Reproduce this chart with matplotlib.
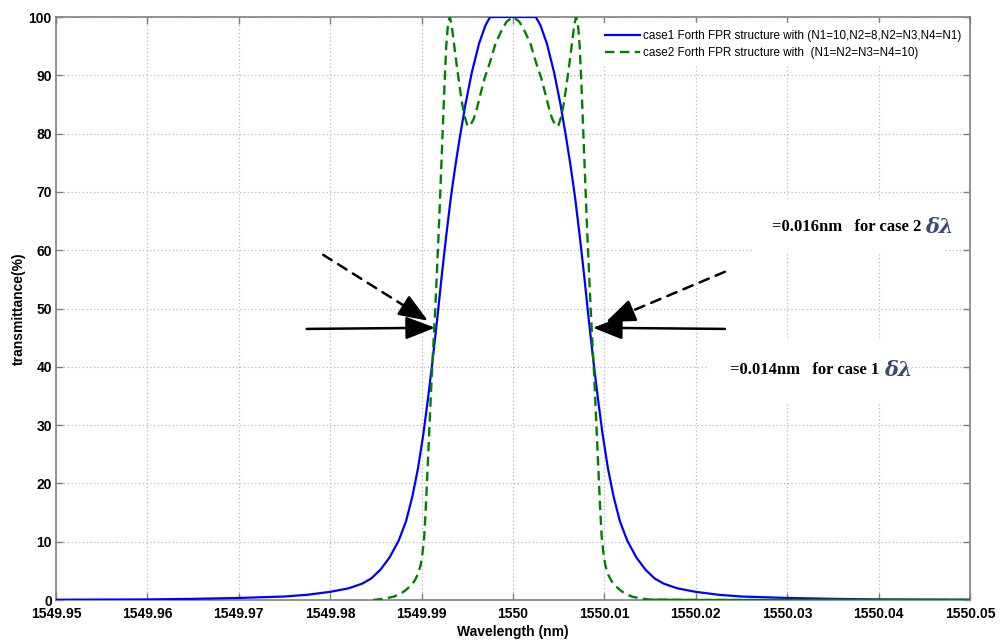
import matplotlib
matplotlib.use("Agg")
import matplotlib.pyplot as plt
import numpy as np

# ---------------- data ----------------
blue_wl = [1549.950, 1549.960, 1549.965, 1549.970, 1549.975, 1549.9775, 1549.980, 1549.982,
           1549.9835, 1549.9845, 1549.9855, 1549.9865, 1549.9875, 1549.9883, 1549.9890, 1549.9896,
           1549.9902, 1549.9907, 1549.9912, 1549.9917, 1549.9922, 1549.9927, 1549.9932, 1549.9937,
           1549.9942, 1549.9948, 1549.9955, 1549.9963, 1549.9970, 1549.9975,
           1550.0000,
           1550.0025, 1550.0030, 1550.0037, 1550.0045, 1550.0052, 1550.0058, 1550.0063, 1550.0068,
           1550.0073, 1550.0078, 1550.0083, 1550.0088, 1550.0093, 1550.0098, 1550.0104, 1550.0110,
           1550.0117, 1550.0125, 1550.0135, 1550.0145, 1550.0155, 1550.0165, 1550.0180, 1550.0200,
           1550.0225, 1550.0250, 1550.0300, 1550.0350, 1550.0400, 1550.0500]
blue_T = [0.05, 0.1, 0.2, 0.35, 0.6, 0.9, 1.4, 2.0,
          2.8, 3.7, 5.2, 7.3, 10.2, 13.5, 17.8, 22.5,
          28.5, 34.5, 41, 48, 55.5, 62.5, 69, 74.5,
          79.5, 85, 90.5, 95.5, 98.6, 100,
          100,
          100, 98.6, 95.5, 90.5, 85, 79.5, 74.5, 69,
          62.5, 55.5, 48, 41, 34.5, 28.5, 22.5, 17.8,
          13.5, 10.2, 7.3, 5.2, 3.7, 2.8, 2.0, 1.4,
          0.9, 0.6, 0.35, 0.2, 0.1, 0.05]

green_wl = [1549.9847, 1549.9855, 1549.9863, 1549.9870, 1549.9876, 1549.9882, 1549.9887, 1549.9892,
            1549.9896, 1549.9899, 1549.9901, 1549.9903, 1549.9905, 1549.9907, 1549.9909, 1549.9911,
            1549.9913, 1549.9915, 1549.9917, 1549.9919, 1549.9921, 1549.9923, 1549.9925, 1549.9927,
            1549.9929, 1549.9931, 1549.9933, 1549.9935, 1549.9938, 1549.9941, 1549.9944, 1549.9947,
            1549.9950, 1549.9952, 1549.9954, 1549.9957, 1549.9960, 1549.9964, 1549.9969, 1549.9975,
            1549.9981, 1549.9987, 1549.9993,
            1550.0000,
            1550.0007, 1550.0013, 1550.0019, 1550.0025, 1550.0031, 1550.0036, 1550.0040, 1550.0043,
            1550.0046, 1550.0048, 1550.0050, 1550.0053, 1550.0056, 1550.0059, 1550.0062, 1550.0065,
            1550.0067, 1550.0069, 1550.0071, 1550.0073, 1550.0075, 1550.0077, 1550.0079, 1550.0081,
            1550.0083, 1550.0085, 1550.0087, 1550.0089, 1550.0091, 1550.0093, 1550.0095, 1550.0097,
            1550.0099, 1550.0101, 1550.0104, 1550.0108, 1550.0113, 1550.0118, 1550.0124, 1550.0130,
            1550.0137, 1550.0145, 1550.0153, 1550.0200, 1550.0300, 1550.0400, 1550.0500]
green_T = [0.0, 0.15, 0.35, 0.6, 1.0, 1.6, 2.3, 3.2,
           4.4, 6.0, 8.0, 11, 17, 24, 31, 38,
           44, 50, 57, 64, 72, 80, 88, 95,
           99, 100, 98.5, 96, 92.3, 88.8, 85.5, 83,
           81.5, 81.2, 81.6, 82.5, 84, 86.5, 89.5, 92.3,
           95.5, 97.5, 99.2,
           100,
           99.2, 97.5, 95.5, 92.3, 89.5, 86.5, 84, 82.5,
           81.6, 81.2, 81.5, 83, 85.5, 88.8, 92.3, 96,
           98.5, 100, 99, 95, 88, 80, 72, 64,
           57, 50, 44, 38, 31, 24, 17, 11,
           8.0, 6.0, 4.4, 3.2, 2.3, 1.6, 1.0, 0.6,
           0.35, 0.15, 0.05, 0.0, 0.0, 0.0, 0.0]

xticks = [1549.95, 1549.96, 1549.97, 1549.98, 1549.99, 1550.00,
          1550.01, 1550.02, 1550.03, 1550.04, 1550.05]
xtick_labels = ["1549.95", "1549.96", "1549.97", "1549.98", "1549.99", "1550",
                "1550.01", "1550.02", "1550.03", "1550.04", "1550.05"]
yticks = [0, 10, 20, 30, 40, 50, 60, 70, 80, 90, 100]

label1 = "case1 Forth FPR structure with (N1=10,N2=8,N2=N3,N4=N1)"
label2 = "case2 Forth FPR structure with  (N1=N2=N3=N4=10)"
note2 = "=0.016nm   for case 2 "
note1 = "=0.014nm   for case 1 "

# ---------------- figure ----------------
plt.rcParams['font.family'] = ['Liberation Sans', 'DejaVu Sans']
fig = plt.figure(figsize=(10.01, 6.44), dpi=100)
ax = fig.add_axes([0.0559, 0.0683, 0.9131, 0.9053])

bw = np.array(blue_wl); bT = np.array(blue_T)
gw = np.array(green_wl); gT = np.array(green_T)

ax.plot(bw, bT, color='#0000ff', lw=1.6, label=label1, zorder=3)
ax.plot(gw, gT, color='#008000', lw=1.7, linestyle=(0, (4, 2.3)), label=label2, zorder=3)
tail = gw >= 1550.0153
ax.plot(gw[tail], gT[tail], color='#008000', lw=1.7, zorder=3)

ax.set_xlim(1549.95, 1550.05)
ax.set_ylim(0, 100)
ax.set_xticks(xticks)
ax.set_xticklabels(xtick_labels)
ax.set_yticks(yticks)
for lab in ax.get_xticklabels() + ax.get_yticklabels():
    lab.set_fontweight('bold')
    lab.set_fontsize(10)
ax.tick_params(direction='in', length=5, width=1, color='#808080',
               top=True, right=True)
ax.tick_params(axis='x', pad=5)
ax.tick_params(axis='y', pad=3)
for s in ax.spines.values():
    s.set_color('#808080')
    s.set_linewidth(1.2)
ax.grid(True, linestyle=(0, (1, 2)), color='#b8b8b8', lw=0.9)
ax.set_axisbelow(True)

ax.set_xlabel("Wavelength (nm)", fontsize=10, fontweight='bold', labelpad=3)
ax.set_ylabel("transmittance(%)", fontsize=10, fontweight='bold', labelpad=2)

leg = ax.legend(loc='upper right', bbox_to_anchor=(1.0, 0.992), fontsize=8.4,
                handlelength=3.0, handletextpad=0.25, labelspacing=0.4,
                borderaxespad=0.15, frameon=True, fancybox=False, borderpad=0.6)
leg.get_frame().set_edgecolor('none')
leg.get_frame().set_facecolor('white')
leg.get_frame().set_alpha(1)

# arrows
head = '-|>,head_length=0.9,head_width=0.35'
arrow_kw = dict(arrowstyle=head, color='black', lw=1.8, mutation_scale=20,
                shrinkA=0, shrinkB=0)
ax.annotate('', xy=(1549.99147, 46.7), xytext=(1549.97743, 46.5), arrowprops=arrow_kw)
ax.annotate('', xy=(1550.00875, 46.7), xytext=(1550.02319, 46.5), arrowprops=arrow_kw)

dashed_arrows = [((1549.97924, 59.2), (1549.9907, 47.9)),
                 ((1550.02319, 56.3), (1550.01017, 47.7))]
for (x0, y0), (x1, y1) in dashed_arrows:
    xm = x1 - 0.15 * (x1 - x0)
    ym = y1 - 0.15 * (y1 - y0)
    ax.annotate('', xy=(xm, ym), xytext=(x0, y0),
                arrowprops=dict(arrowstyle='-', color='black', lw=1.8,
                                linestyle=(0, (4, 3)), shrinkA=0, shrinkB=0))
    ax.annotate('', xy=(x1, y1), xytext=(xm, ym), arrowprops=arrow_kw)

# notes
serif = ['Liberation Serif', 'DejaVu Serif']
t2 = ax.text(1550.0283, 64.0, note2, fontsize=12, fontweight='bold', family=serif,
             va='center', ha='left',
             bbox=dict(boxstyle='square,pad=1.1', fc='white', ec='none'), zorder=4)
t1 = ax.text(1550.0238, 39.4, note1, fontsize=12, fontweight='bold', family=serif,
             va='center', ha='left',
             bbox=dict(boxstyle='square,pad=1.4', fc='white', ec='none'), zorder=4)
for t in (t2, t1):
    ax.annotate('δλ', xy=(1, 0.5), xycoords=t, xytext=(0, 0), textcoords='offset points',
                va='center', ha='left', fontsize=15, fontweight='bold', style='italic',
                family=['DejaVu Serif'], color='#3c4a70', zorder=5)

fig.savefig('out.png', dpi=100)
